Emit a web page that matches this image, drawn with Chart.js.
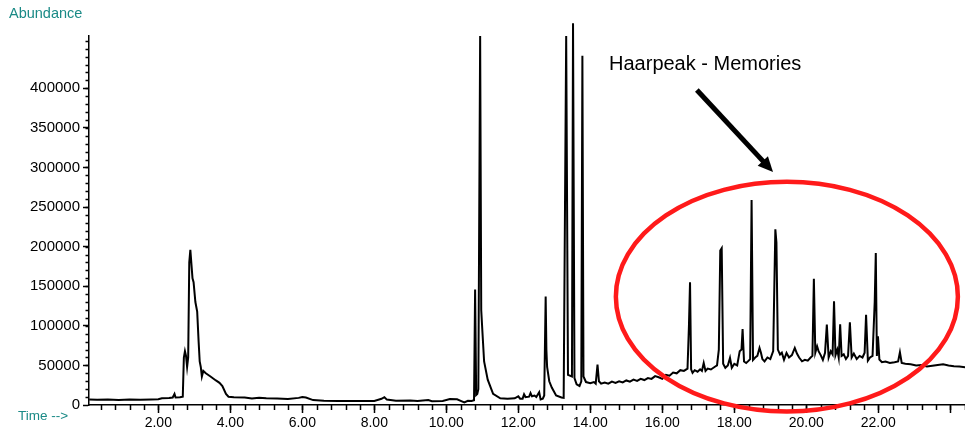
<!DOCTYPE html>
<html>
<head>
<meta charset="utf-8">
<script src="https://cdn.jsdelivr.net/npm/chart.js@4.4.1/dist/chart.umd.min.js"></script>
<style>
    html, body { margin: 0; padding: 0; background: #fff; }
    #wrap { width: 965px; height: 434px; position: relative; }
</style>
</head>
<body>
<div id="wrap"><canvas id="chart-area"></canvas></div>
<script>
/* chromatogram */
var times = [
    0.08, 0.3, 0.6, 0.9, 1.2, 1.5, 1.8, 2.0, 2.1, 2.3, 2.4, 2.45, 2.48, 2.6, 2.68,
    2.71, 2.74, 2.77, 2.80, 2.83, 2.86, 2.89, 2.92, 2.95, 2.98, 3.03, 3.08, 3.12, 3.15, 3.18,
    3.21, 3.25, 3.32, 3.45, 3.6, 3.7, 3.78, 3.88, 3.95, 4.1, 4.4, 4.6, 4.8, 5.0, 5.3,
    5.6, 5.9, 6.0, 6.1, 6.3, 6.6, 7.0, 7.5, 8.0, 8.2, 8.28, 8.35, 8.6, 9.0, 9.2,
    9.5, 9.6, 9.9, 10.1, 10.3, 10.4, 10.5, 10.6, 10.7, 10.77, 10.8, 10.83, 10.86, 10.89, 10.94,
    10.97, 11.0, 11.05, 11.15, 11.3, 11.5, 11.7, 11.9, 12.0, 12.05, 12.12, 12.16, 12.2, 12.3, 12.34,
    12.38, 12.45, 12.5, 12.58, 12.62, 12.68, 12.72, 12.76, 12.78, 12.8, 12.86, 12.93, 13.05, 13.2, 13.26,
    13.33, 13.38, 13.49, 13.52, 13.56, 13.62, 13.7, 13.75, 13.78, 13.81, 13.88,
    14.0, 14.1, 14.15, 14.2, 14.24, 14.3, 14.4, 14.5, 14.6, 14.7, 14.8, 14.9,
    15.0, 15.1, 15.2, 15.3, 15.4, 15.5, 15.6, 15.7, 15.8, 15.9, 16.0, 16.1,
    16.2, 16.3, 16.4, 16.5, 16.6, 16.7, 16.74, 16.77, 16.8, 16.84, 16.9, 16.98,
    17.05, 17.1, 17.15, 17.2, 17.26, 17.35, 17.45, 17.52, 17.57, 17.61, 17.65, 17.69,
    17.75, 17.82, 17.88, 17.93, 18.0, 18.08, 18.15, 18.2, 18.23, 18.27, 18.33, 18.4,
    18.44, 18.48, 18.52, 18.58, 18.64, 18.7, 18.74, 18.78, 18.84, 18.92, 19.0, 19.08,
    19.14, 19.17, 19.21, 19.27, 19.32, 19.38, 19.45, 19.52, 19.6, 19.68, 19.74, 19.8,
    19.88, 19.96, 20.04, 20.12, 20.17, 20.21, 20.25, 20.3, 20.34, 20.4, 20.46, 20.52,
    20.57, 20.62, 20.68, 20.73, 20.77, 20.81, 20.86, 20.9, 20.94, 20.98, 21.04, 21.1,
    21.16, 21.21, 21.26, 21.32, 21.4, 21.48, 21.56, 21.62, 21.66, 21.71, 21.77, 21.84,
    21.9, 21.93, 21.96, 21.99, 22.03, 22.1, 22.2, 22.32, 22.45, 22.55, 22.6, 22.65,
    22.75, 22.9, 23.05, 23.2, 23.35, 23.5, 23.65, 23.8, 23.95, 24.1, 24.25, 24.41
];
var abundance = [
    7000, 6500, 7000, 6300, 6800, 6600, 7000, 7400, 8600, 8800, 9500, 14000, 9500, 9800, 10500,
    60000, 68000, 62000, 48000, 60000, 180000, 196000, 178000, 160000, 155000, 130000, 118000, 80000, 55000, 48000,
    36000, 43000, 40000, 36000, 31000, 28000, 24000, 14000, 10500, 9800, 9600, 8200, 9200, 8600, 8200,
    7600, 9000, 10200, 9500, 6200, 5500, 5200, 5000, 5200, 7800, 9800, 6800, 5500, 5600, 5000,
    6200, 4800, 5200, 7500, 7200, 5200, 3200, 5200, 5000, 6000, 146000, 12700, 14000, 20000, 466000,
    120000, 95000, 55000, 32000, 14000, 8500, 8000, 8500, 11000, 8000, 8000, 13500, 10000, 10500, 15000,
    11000, 12000, 10000, 16000, 7000, 8000, 12000, 137000, 70000, 48000, 30000, 22000, 12000, 9500, 9000,
    466000, 38000, 36000, 482000, 34000, 26000, 24000, 30000, 441000, 36000, 29000,
    27500, 29000, 27000, 51000, 30000, 27000, 28500, 27000, 29500, 28000, 30000, 28500,
    31000, 29500, 32000, 30500, 33000, 31500, 34000, 33000, 36500, 35000, 33000, 38000,
    37000, 41000, 40000, 44000, 43000, 46000, 100000, 155000, 45000, 40600, 44000, 42000,
    45000, 43000, 53000, 43000, 46000, 44800, 48000, 50000, 70000, 195000, 198000, 52000,
    47000, 50000, 59500, 47000, 52000, 50000, 68000, 70000, 96000, 55000, 53000, 56000,
    58000, 259000, 57000, 60000, 62000, 72000, 66000, 58000, 55000, 60000, 58000, 68000,
    222000, 205000, 70000, 63700, 66000, 57000, 65800, 60000, 63000, 72100, 65000, 60000,
    55200, 57000, 56000, 60000, 62000, 159500, 66000, 74100, 68000, 63000, 57000, 66000,
    101500, 60000, 68000, 64000, 131000, 63000, 70000, 60000, 102000, 62000, 64000, 58000,
    62000, 104400, 60000, 65000, 58000, 62000, 60000, 66000, 114000, 56000, 60000, 62000,
    130000, 192000, 62000, 86800, 57400, 54000, 55000, 53000, 54000, 55000, 66600, 53000,
    52000, 51500, 50000, 50500, 48500, 49500, 50500, 51500, 50000, 49000, 48500, 47800
];
var timeTicks = [2, 4, 6, 8, 10, 12, 14, 16, 18, 20, 22, 24];
var abundanceTicks = [0, 50000, 100000, 150000, 200000, 250000, 300000, 350000, 400000];

var teal = '#1a8a86';
var fontName = "'Liberation Sans', Arial, sans-serif";

var notes = {
    id: 'notes',
    afterDraw: function (chart) {
        var ctx = chart.ctx;
        var xs = chart.scales.x;
        var ys = chart.scales.y;
        var a = chart.chartArea;
        ctx.save();

        // minor ticks
        ctx.strokeStyle = '#000';
        ctx.lineWidth = 1.5;
        ctx.beginPath();
        for (var i = 1; i <= 61; i++) {
            var px = Math.round(xs.getPixelForValue(i * 0.4)) + 0.5;
            ctx.moveTo(px, a.bottom);
            ctx.lineTo(px, a.bottom + 5);
        }
        for (var j = 1; j <= 46; j++) {
            var py = Math.round(ys.getPixelForValue(j * 10000)) + 0.5;
            ctx.moveTo(a.left, py);
            ctx.lineTo(a.left - 3.5, py);
        }
        ctx.stroke();

        // red ellipse
        var cx = xs.getPixelForValue(19.46);
        var cy = ys.getPixelForValue(136800);
        var rx = xs.getPixelForValue(19.46 + 4.75) - cx;
        var ry = cy - ys.getPixelForValue(136800 + 145000);
        ctx.strokeStyle = '#ff1a1a';
        ctx.lineWidth = 4.5;
        ctx.beginPath();
        ctx.ellipse(cx, cy, rx, ry, 0, 0, Math.PI * 2);
        ctx.stroke();

        // arrow
        var x1 = xs.getPixelForValue(16.96), y1 = ys.getPixelForValue(397900);
        var x2 = xs.getPixelForValue(19.075), y2 = ys.getPixelForValue(294400);
        var ang = Math.atan2(y2 - y1, x2 - x1);
        var head = 15;
        ctx.strokeStyle = '#000';
        ctx.lineWidth = 5;
        ctx.beginPath();
        ctx.moveTo(x1, y1);
        ctx.lineTo(x2 - head * 0.8 * Math.cos(ang), y2 - head * 0.8 * Math.sin(ang));
        ctx.stroke();
        ctx.fillStyle = '#000';
        ctx.beginPath();
        ctx.moveTo(x2, y2);
        ctx.lineTo(x2 - head * Math.cos(ang) + 7 * Math.sin(ang), y2 - head * Math.sin(ang) - 7 * Math.cos(ang));
        ctx.lineTo(x2 - head * Math.cos(ang) - 7 * Math.sin(ang), y2 - head * Math.sin(ang) + 7 * Math.cos(ang));
        ctx.closePath();
        ctx.fill();

        // texts
        ctx.textBaseline = 'middle';
        ctx.textAlign = 'left';
        ctx.font = '20px ' + fontName;
        ctx.fillStyle = '#000';
        ctx.fillText('Haarpeak - Memories', xs.getPixelForValue(14.52), ys.getPixelForValue(429400));
        ctx.fillStyle = teal;
        ctx.font = '14.5px ' + fontName;
        ctx.fillText('Abundance', 9, 14);
        ctx.font = '13.5px ' + fontName;
        ctx.fillText('Time -->', 18, 416);
        ctx.restore();
    }
};

var config = {
    type: 'line',
    data: {
        datasets: [{
            data: times.map(function (t, i) { return { x: t, y: abundance[i] }; }),
            borderColor: '#000',
            borderWidth: 2,
            pointRadius: 0,
            tension: 0,
            fill: false,
            clip: false
        }]
    },
    options: {
        responsive: true,
        maintainAspectRatio: false,
        animation: false,
        layout: { padding: { top: 36, right: 0, bottom: 0, left: 0 } },
        plugins: { legend: { display: false }, tooltip: { enabled: false } },
        scales: {
            x: {
                type: 'linear',
                min: 0.075,
                max: 24.408,
                afterBuildTicks: function (s) { s.ticks = timeTicks.map(function (v) { return { value: v }; }); },
                afterFit: function (s) { s.height = 29; },
                ticks: {
                    callback: function (v) { return v >= 24 ? '' : v.toFixed(2); },
                    color: '#000',
                    font: { family: fontName, size: 14 },
                    padding: 2,
                    maxRotation: 0,
                    autoSkip: false
                },
                grid: { drawOnChartArea: false, tickLength: 8, tickColor: '#000', tickWidth: 1.5 },
                border: { color: '#000', width: 1.5 }
            },
            y: {
                min: 0,
                max: 466000,
                afterBuildTicks: function (s) { s.ticks = abundanceTicks.map(function (v) { return { value: v }; }); },
                afterFit: function (s) { s.width = 89; },
                ticks: {
                    callback: function (v) { return String(v); },
                    color: '#000',
                    font: { family: fontName, size: 15 },
                    padding: 3,
                    autoSkip: false
                },
                grid: { drawOnChartArea: false, tickLength: 6, tickColor: '#000', tickWidth: 1.5 },
                border: { color: '#000', width: 1.5 }
            }
        }
    },
    plugins: [notes]
};

var ctx = document.getElementById("chart-area").getContext("2d");
var myChart = new Chart(ctx, config);
</script>
</body>
</html>
